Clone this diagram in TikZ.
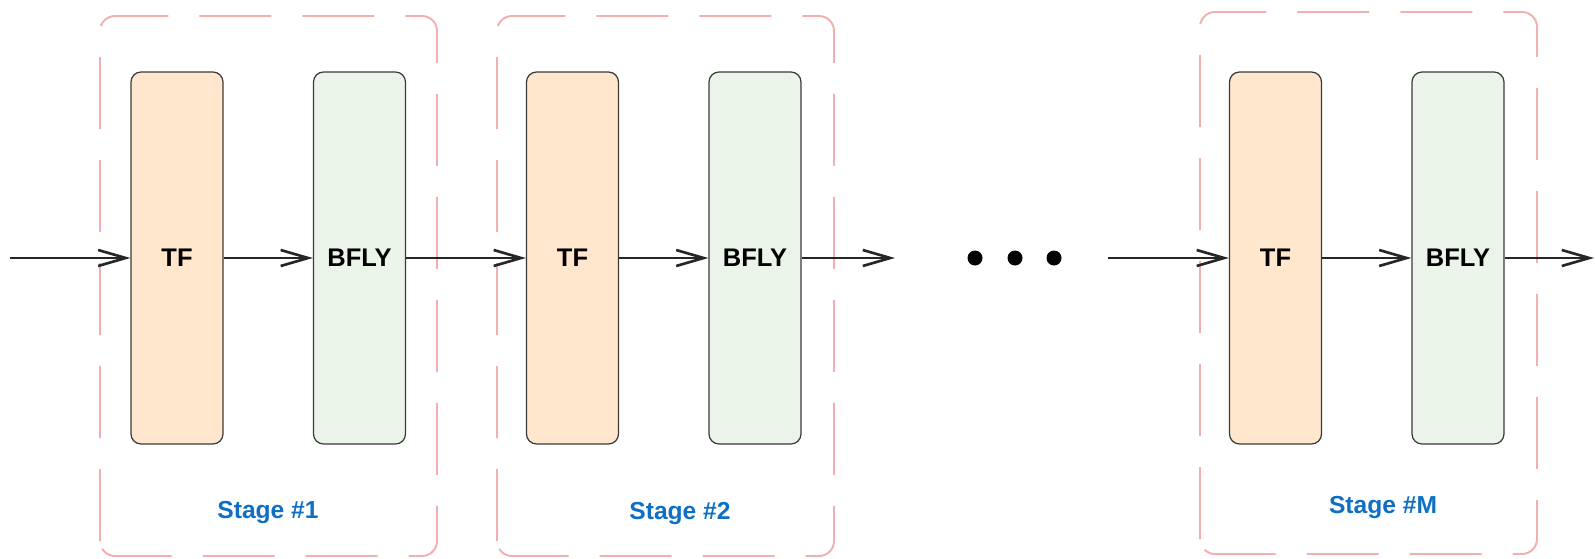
\documentclass[tikz,border=0pt]{standalone}
\usepackage{fontspec}
\setmainfont{Liberation Sans}
\usetikzlibrary{arrows.meta}

\definecolor{tfFill}{HTML}{FFE6CC}
\definecolor{bflyFill}{HTML}{EAF4E8}
\definecolor{blockLine}{HTML}{3A3A3A}
\definecolor{stageLine}{HTML}{F2AFAE}
\definecolor{stageText}{HTML}{0E6FC4}

\begin{document}
\begin{tikzpicture}
        \tikzset{block/.style={draw=blockLine, line width=0.7pt, rounded corners=0.2cm,
                minimum width=1.84cm, minimum height=7.44cm, inner sep=0pt,
                font=\fontsize{14.5}{17}\selectfont\bfseries},
            tfblock/.style={block, fill=tfFill},
            bflyblock/.style={block, fill=bflyFill},
            stage/.style={draw=stageLine, line width=1.1pt, rounded corners=0.3cm,
                dash pattern=on 1.44cm off 0.62cm},
            stagelabel/.style={text=stageText, font=\fontsize{14}{17}\selectfont\bfseries},
            flow/.style={-{Straight Barb[length=5.5mm, width=3.2mm]}, line width=1.5pt, draw=black!85},
            dot/.style={circle, fill=black, inner sep=0pt, minimum size=0.3cm}}
        \useasboundingbox (0,0) rectangle (31.9,11.16);

        % stage frames
        \draw[stage] (2.0,0.04) rectangle (8.74,10.84);
        \draw[stage] (9.94,0.04) rectangle (16.68,10.84);
        \draw[stage] (24.0,0.08) rectangle (30.74,10.92);
        \node[stagelabel] (lab1) at (5.36,0.9) {Stage \#1};
        \node[stagelabel] (lab2) at (13.6,0.88) {Stage \#2};
        \node[stagelabel] (labM) at (27.66,1.0) {Stage \#M};

        % blocks
        \node[tfblock] (tf1) at (3.54,6.0) {TF};
        \node[bflyblock] (bfly1) at (7.19,6.0) {BFLY};
        \node[tfblock] (tf2) at (11.45,6.0) {TF};
        \node[bflyblock] (bfly2) at (15.1,6.0) {BFLY};
        \node[tfblock] (tfM) at (25.51,6.0) {TF};
        \node[bflyblock] (bflyM) at (29.16,6.0) {BFLY};

        % dots between stages
        \node[dot] (d1) at (19.5,6.0) {};
        \node[dot] (d2) at (20.3,6.0) {};
        \node[dot] (d3) at (21.08,6.0) {};

        \coordinate (in) at (0.2,6.0);
        \coordinate (mid1) at (17.9,6.0);
        \coordinate (mid2) at (22.16,6.0);
        \coordinate (out) at (31.88,6.0);

        % data path
        \draw[flow] (in) -- (tf1);
        \draw[flow] (tf1) -- (bfly1);
        \draw[flow] (bfly1) -- (tf2);
        \draw[flow] (tf2) -- (bfly2);
        \draw[flow] (bfly2) -- (mid1);
        \draw[flow] (mid2) -- (tfM);
        \draw[flow] (tfM) -- (bflyM);
        \draw[flow] (bflyM) -- (out);
\end{tikzpicture}
\end{document}
